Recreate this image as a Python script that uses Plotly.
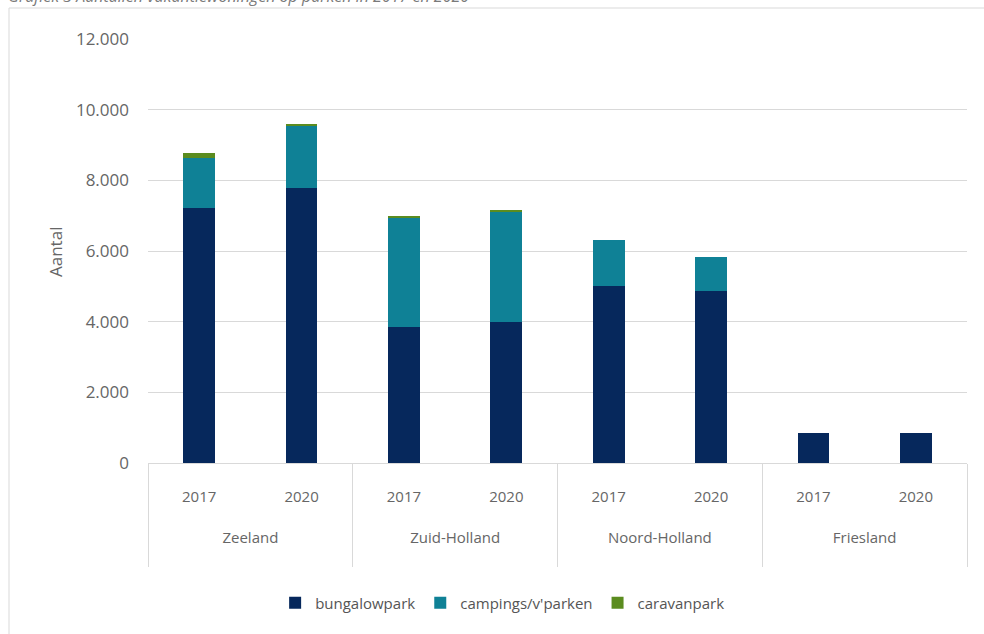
import plotly.graph_objects as go

regions = ["Zeeland", "Zeeland", "Zuid-Holland", "Zuid-Holland",
           "Noord-Holland", "Noord-Holland", "Friesland", "Friesland"]
years = ["2017", "2020", "2017", "2020", "2017", "2020", "2017", "2020"]

bungalowpark = [7220, 7790, 3850, 3990, 5010, 4870, 850, 850]
campings = [1410, 1750, 3080, 3110, 1290, 960, 0, 0]
caravanpark = [140, 40, 60, 60, 0, 0, 0, 0]

series = [
    ("bungalowpark", bungalowpark, "#06285c"),
    ("campings/v'parken", campings, "#0f8196"),
    ("caravanpark", caravanpark, "#5b8c1f"),
]

FONT = "Open Sans, sans-serif"
GREY = "#666666"

# padded labels so the two category levels sit as far apart as in the original
year_lbls = ["<br>" + y for y in years]
region_lbls = ["<br><br>" + r + "<br>&nbsp;" for r in regions]

fig = go.Figure()
for name, vals, color in series:
    fig.add_trace(go.Bar(
        x=[region_lbls, year_lbls],
        y=vals,
        name=name,
        marker=dict(color=color, line=dict(width=0)),
    ))

fig.update_layout(
    barmode="stack",
    bargap=0.69,
    width=984,
    height=634,
    margin=dict(l=148, r=17, t=39, b=171),
    paper_bgcolor="white",
    plot_bgcolor="white",
    separators=",.",
    font=dict(family=FONT, size=15, color=GREY),
    showlegend=True,
    legend=dict(
        orientation="h",
        x=0.433, xanchor="center",
        y=-0.33, yanchor="middle",
        font=dict(family=FONT, size=15, color="#555555"),
        traceorder="normal",
        itemwidth=30,
    ),
)

fig.update_yaxes(
    range=[0, 12000],
    tickvals=[0, 2000, 4000, 6000, 8000, 10000, 12000],
    tickformat=",d",
    showgrid=True,
    gridcolor="#d9d9d9",
    gridwidth=1,
    zeroline=False,
    showline=False,
    ticklabelstandoff=18,
    tickfont=dict(size=17, color=GREY),
)
fig.update_xaxes(
    type="multicategory",
    showline=True,
    linecolor="#d9d9d9",
    linewidth=1,
    showdividers=True,
    dividercolor="#d9d9d9",
    dividerwidth=1,
    tickfont=dict(size=15, color=GREY),
    ticks="",
)

# y-axis title
fig.add_annotation(
    text="Aantal", textangle=-90,
    xref="paper", yref="paper", x=(55 - 148) / 819, y=(463 - 252) / 424,
    xanchor="center", yanchor="middle",
    showarrow=False, font=dict(family=FONT, size=17, color=GREY),
)

# chart title, cropped at the top of the picture
fig.add_annotation(
    text="<i>Grafiek 3 Aantallen vakantiewoningen op parken in 2017 en 2020</i>",
    xref="paper", yref="paper", x=(6 - 148) / 819, y=(463 + 4) / 424,
    xanchor="left", yanchor="middle",
    showarrow=False, font=dict(family=FONT, size=16, color="#7a7a7a"),
)

# outer chart border (top and left edges visible)
fig.add_shape(type="line", xref="paper", yref="paper",
              x0=(9 - 148) / 819, x1=(990 - 148) / 819,
              y0=(463 - 8) / 424, y1=(463 - 8) / 424,
              line=dict(color="#d9d9d9", width=1))
fig.add_shape(type="line", xref="paper", yref="paper",
              x0=(9 - 148) / 819, x1=(9 - 148) / 819,
              y0=(463 - 8) / 424, y1=(463 - 640) / 424,
              line=dict(color="#d9d9d9", width=1))

fig.write_html("out.html", config={"displayModeBar": False},
               post_script="document.body.style.margin='0';")
